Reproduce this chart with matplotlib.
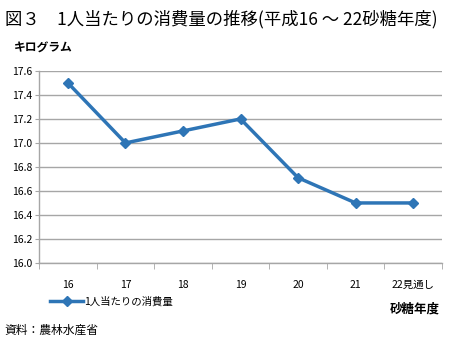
import matplotlib.pyplot as plt
from matplotlib.lines import Line2D

plt.rcParams['font.family'] = ['Noto Sans CJK JP', 'DejaVu Sans']

# data
years = ['16', '17', '18', '19', '20', '21', '22見通し']
consumption = [17.5, 17.0, 17.1, 17.2, 16.71, 16.5, 16.5]
yticks = [16.0, 16.2, 16.4, 16.6, 16.8, 17.0, 17.2, 17.4, 17.6]

line_color = '#2E75B6'
grid_color = '#A6A6A6'

fig = plt.figure(figsize=(4.5, 3.46), dpi=100)
ax = fig.add_axes([0.087, 0.24, 0.895, 0.555])

x = list(range(len(years)))
ax.plot(x, consumption, color=line_color, linewidth=2.5, marker='D',
        markersize=5.5, label='1人当たりの消費量')

ax.set_xlim(-0.5, len(years) - 0.5)
ax.set_ylim(16.0, 17.6)
ax.set_yticks(yticks)
ax.set_yticklabels([f'{v:.1f}' for v in yticks], fontsize=7.5)
ax.yaxis.grid(True, color=grid_color, linewidth=1)
ax.set_axisbelow(True)

ax.set_xticks(x)
ax.set_xticklabels(years, fontsize=7.5)
ax.tick_params(axis='x', length=0, pad=12)
ax.tick_params(axis='y', length=3, color=grid_color, pad=2)
ax.set_xticks([i - 0.5 for i in range(len(years) + 1)], minor=True)
ax.tick_params(axis='x', which='minor', length=4, color=grid_color)

for s in ['top', 'right']:
    ax.spines[s].set_visible(False)
for s in ['left', 'bottom']:
    ax.spines[s].set_color(grid_color)
    ax.spines[s].set_linewidth(1)

fig.text(0.011, 0.945, '図３　1人当たりの消費量の推移(平成16 ～ 22砂糖年度)',
         fontsize=12.5, va='center', ha='left')
fig.text(0.03, 0.862, 'キログラム', fontsize=8.5, va='center', ha='left',
         fontweight='bold')

handle = Line2D([], [], color=line_color, linewidth=2.5, marker='D', markersize=5)
fig.legend([handle], ['1人当たりの消費量'], loc='center left',
           bbox_to_anchor=(0.09, 0.128), frameon=False, fontsize=7.5,
           handlelength=3.2, handletextpad=0.1)

fig.text(0.978, 0.108, '砂糖年度', fontsize=9, va='center', ha='right',
         fontweight='bold')
fig.text(0.011, 0.045, '資料：農林水産省', fontsize=8.5, va='center', ha='left')

fig.savefig('out.png', dpi=100)
